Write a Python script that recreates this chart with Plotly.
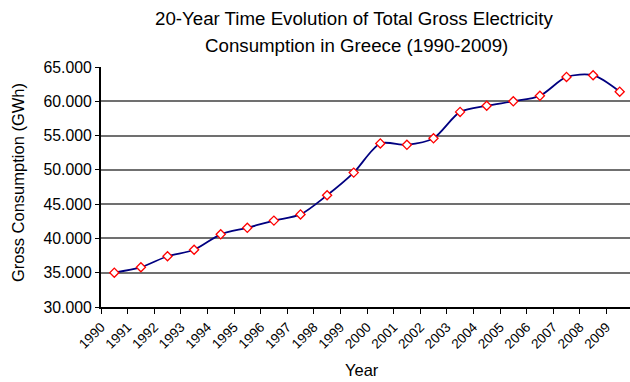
import plotly.graph_objects as go

years = [str(y) for y in range(1990, 2010)]
consumption = [35000, 35800, 37400, 38350, 40600, 41550, 42600, 43500, 46300, 49600,
               53850, 53650, 54600, 58450, 59350, 60000, 60800, 63550, 63800, 61400]
y_ticks = [30000, 35000, 40000, 45000, 50000, 55000, 60000, 65000]

positions = [i + 0.5 for i in range(len(years))]

W, H = 630, 382
L, R, T, B = 101, 0, 67, 75
pw = W - L - R
ph = H - T - B


def px_x(x):
    return (x - L) / pw


def px_y(y):
    return (H - B - y) / ph


fig = go.Figure()
fig.add_trace(go.Scatter(
    x=positions, y=consumption, mode="lines+markers",
    line=dict(color="#000080", width=1.8, shape="spline", smoothing=0.8),
    marker=dict(symbol="diamond", size=7, color="white",
                line=dict(color="#ff0000", width=1.3)),
    showlegend=False, hoverinfo="skip", cliponaxis=False,
))

font_family = "Liberation Sans, Arial, sans-serif"
fig.update_layout(
    width=W, height=H,
    margin=dict(l=L, r=R, t=T, b=B, autoexpand=False),
    paper_bgcolor="white", plot_bgcolor="white",
    separators=",.",
    font=dict(family=font_family, color="black"),
    annotations=[
        dict(text="20-Year Time Evolution of Total Gross Electricity",
             xref="paper", yref="paper", x=px_x(354), y=px_y(18),
             xanchor="center", yanchor="middle", showarrow=False, font=dict(size=18.7)),
        dict(text="Consumption in Greece (1990-2009)",
             xref="paper", yref="paper", x=px_x(356), y=px_y(45),
             xanchor="center", yanchor="middle", showarrow=False, font=dict(size=18.7)),
        dict(text="Year", xref="paper", yref="paper", x=px_x(362), y=px_y(370),
             xanchor="center", yanchor="middle", showarrow=False, font=dict(size=16.5)),
        dict(text="Gross Consumption (GWh)", xref="paper", yref="paper",
             x=px_x(18), y=px_y(183), textangle=-90,
             xanchor="center", yanchor="middle", showarrow=False, font=dict(size=16.5)),
    ],
)

fig.update_xaxes(
    range=[0, pw / 26.6], tickmode="array",
    tickvals=list(range(len(years))), ticktext=years,
    tickangle=-45, tickfont=dict(size=13.5),
    ticks="outside", ticklen=5, tickcolor="black",
    showline=True, linecolor="black", linewidth=2,
    showgrid=False, zeroline=False, automargin=False,
)
fig.update_yaxes(
    range=[30000, 65000], tickmode="array", tickvals=y_ticks,
    tickformat=",.0f", tickfont=dict(size=15.8),
    ticks="outside", ticklen=4, tickcolor="black",
    showline=True, linecolor="black", linewidth=2,
    showgrid=True, gridcolor="#707070", gridwidth=1.5,
    zeroline=False, automargin=False,
)

fig.write_html("out.html", config={"displayModeBar": False},
               post_script="document.body.style.margin='0';document.body.style.overflow='hidden';")
